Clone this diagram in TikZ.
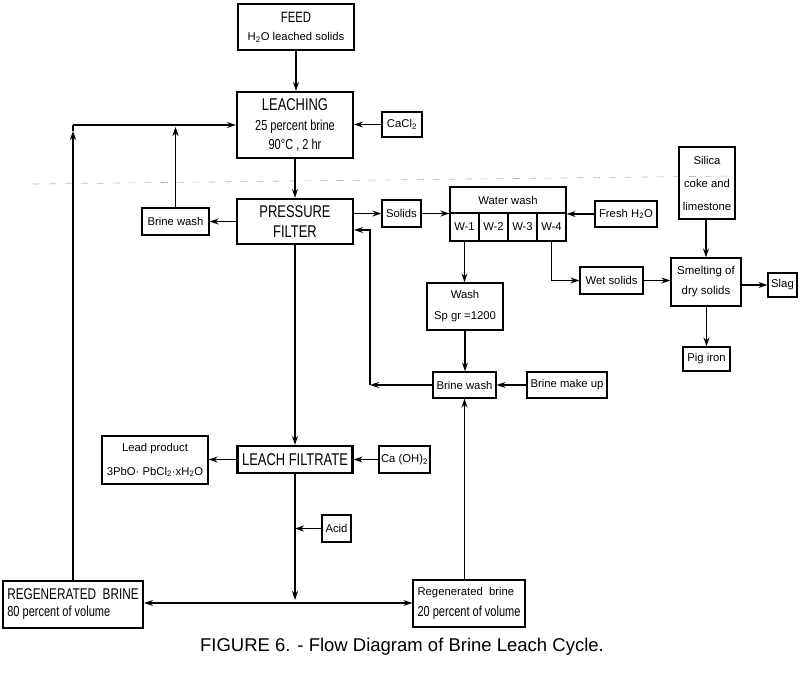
\documentclass[tikz,border=0pt]{standalone}
\usepackage{fontspec}
\setmainfont{Liberation Sans}
\newfontfamily\cf[FakeStretch=0.76]{Liberation Sans}
\usetikzlibrary{arrows.meta}
\newcommand\bigT{\cf\fontsize{17}{17}\selectfont}
\newcommand\smT{\fontsize{11.3}{13}\selectfont}
\begin{document}
\begin{tikzpicture}[x=1pt,y=-1pt,
  box/.style={draw, line width=1.3pt, inner sep=0pt, align=center, font=\smT},
  tbox/.style={box, line width=2.2pt},
  arr/.style={-{Stealth[length=9pt,width=6pt]}, line width=1.25pt},
  ln/.style={line width=1.25pt},
  fold/.style={gray!55, line width=0.6pt, dash pattern=on 7pt off 9pt}]
\useasboundingbox[fill=white] (0,0) rectangle (800,676);
% faint scan fold
\draw[fold] (33,184) -- (735,176);
% nodes
\node[box, line width=1.7pt, minimum width=116pt, minimum height=46pt, font={\fontsize{11.3}{18}\selectfont}] (feed) at (296,27)
  {{\cf\fontsize{15}{15}\selectfont FEED}\\H\textsubscript{2}O leached solids};
\node[tbox, minimum width=116pt, minimum height=66pt, font={\cf\fontsize{14.5}{19.5}\selectfont}] (leach) at (295,125)
  {{\bigT LEACHING}\\25 percent brine\\90°C , 2 hr};
\node[box, minimum width=40pt, minimum height=25pt] (cacl) at (402,124.5) {CaCl\textsubscript{2}};
\node[tbox, minimum width=116pt, minimum height=45pt, font={\cf\fontsize{17}{20}\selectfont}] (pf) at (295,221.5) {PRESSURE\\FILTER};
\node[box, minimum width=67pt, minimum height=27pt] (bwL) at (175.5,221.5) {Brine wash};
\node[box, minimum width=39pt, minimum height=27pt] (solids) at (401.5,213.5) {Solids};
\node[box, minimum width=116pt, minimum height=54pt] (ww) at (508,214) {};
\node[inner sep=0pt, font=\smT] (wwt) at (508,200) {Water wash};
\node[box, minimum width=29pt, minimum height=28pt] (w1) at (464.5,227) {W-1};
\node[box, minimum width=29pt, minimum height=28pt] (w2) at (493.5,227) {W-2};
\node[box, minimum width=29pt, minimum height=28pt] (w3) at (522.5,227) {W-3};
\node[box, minimum width=29pt, minimum height=28pt] (w4) at (551.5,227) {W-4};
\node[box, minimum width=62pt, minimum height=26pt] (fresh) at (626,214) {Fresh H\textsubscript{2}O};
\node[box, minimum width=56pt, minimum height=72pt, font={\fontsize{11.3}{23}\selectfont}] (silica) at (707,183) {Silica\\coke and\\limestone};
\node[box, minimum width=70pt, minimum height=48pt, font={\fontsize{11.5}{20}\selectfont}] (smelt) at (706,282) {Smelting of\\dry solids};
\node[box, minimum width=29pt, minimum height=24pt] (slag) at (782.5,285) {Slag};
\node[box, minimum width=47pt, minimum height=24pt] (pig) at (706.5,359) {Pig iron};
\node[box, minimum width=63pt, minimum height=27pt] (wet) at (611.5,280.5) {Wet solids};
\node[box, minimum width=76pt, minimum height=47pt, font={\fontsize{11.3}{21}\selectfont}] (wash) at (465,306.5) {Wash\\Sp gr =1200};
\node[box, minimum width=63pt, minimum height=26pt] (bwR) at (464.5,385) {Brine wash};
\node[box, minimum width=80pt, minimum height=26pt] (makeup) at (567,385) {Brine make up};
\node[tbox, minimum width=115pt, minimum height=27pt, font=\bigT] (lf) at (295,459.5) {LEACH FILTRATE};
\node[box, minimum width=51pt, minimum height=27pt] (caoh) at (404.5,459.5) {Ca (OH)\textsubscript{2}};
\node[box, minimum width=106pt, minimum height=48pt, font={\fontsize{11.3}{24}\selectfont}] (lead) at (155,460)
  {Lead product\\3PbO· PbCl\textsubscript{2}·xH\textsubscript{2}O};
\node[box, minimum width=29pt, minimum height=27pt] (acid) at (336.5,528.5) {Acid};
\node[tbox, minimum width=140pt, minimum height=47pt, align=left, font={\cf\fontsize{14.5}{17}\selectfont}] (rbL) at (73,604.5)
  {{\fontsize{15.5}{15.5}\selectfont REGENERATED\ \ BRINE}\\80 percent of volume};
\node[box, minimum width=112pt, minimum height=47pt, align=left, font={\cf\fontsize{14.5}{21}\selectfont}] (rbR) at (469,603.5)
  {{\normalfont\fontsize{11.3}{11}\selectfont Regenerated\ \ brine}\\20 percent of volume};
\node[font=\fontsize{18.5}{20}\selectfont, anchor=base] (cap) at (402,651) {FIGURE 6. - Flow Diagram of Brine Leach Cycle.};
% coordinates
\coordinate (lc) at (73,125);
\coordinate (lcA) at (73,131);
\coordinate (bwLt) at (175.5,127);
\coordinate (jn) at (295,603);
\coordinate (jnA) at (295,600);
\coordinate (accA) at (295,528.5);
\coordinate (rc) at (370,385);
\coordinate (rcT) at (370,230);
% connectors
\draw[arr] (feed.south) -- (feed.south |- leach.north);
\draw[arr] (cacl.west) -- (cacl.west -| leach.east);
\draw[arr] (rbL.north) -- (lcA);
\draw[ln] (lcA) -- (lc);
\draw[arr] (lc) -- (leach.west);
\draw[arr] (bwL.north) -- (bwLt);
\draw[arr] (leach.south) -- (pf.north);
\draw[arr] (pf.west) -- (bwL.east);
\draw[arr] (pf.east |- solids.west) -- (solids.west);
\draw[arr] (solids.east) -- (solids.east -| ww.west);
\draw[arr] (fresh.west) -- (fresh.west -| ww.east);
\draw[arr] (w1.south) -- (w1.south |- wash.north);
\draw[arr] (w4.south) |- (wet.west);
\draw[arr] (wet.east) -- (wet.east -| smelt.west);
\draw[arr] (silica.south -| smelt.north) -- (smelt.north);
\draw[arr] (slag.west -| smelt.east) -- (slag.west);
\draw[arr] (smelt.south -| pig.north) -- (pig.north);
\draw[arr] (wash.south) -- (wash.south |- bwR.north);
\draw[arr] (makeup.west) -- (bwR.east);
\draw[arr] (bwR.west) -- (rc);
\draw[arr] (rc) -- (rcT) -- (rcT -| pf.east);
\draw[arr] (pf.south) -- (pf.south |- lf.north);
\draw[arr] (caoh.west) -- (lf.east);
\draw[arr] (lf.west) -- (lf.west -| lead.east);
\draw[arr] (acid.west) -- (accA);
\draw[arr] (lf.south) -- (jnA);
\draw[arr] (jn) -- (jn -| rbL.east);
\draw[arr] (jn) -- (jn -| rbR.west);
\draw[arr] (bwR.south |- rbR.north) -- (bwR.south);
\end{tikzpicture}
\end{document}
